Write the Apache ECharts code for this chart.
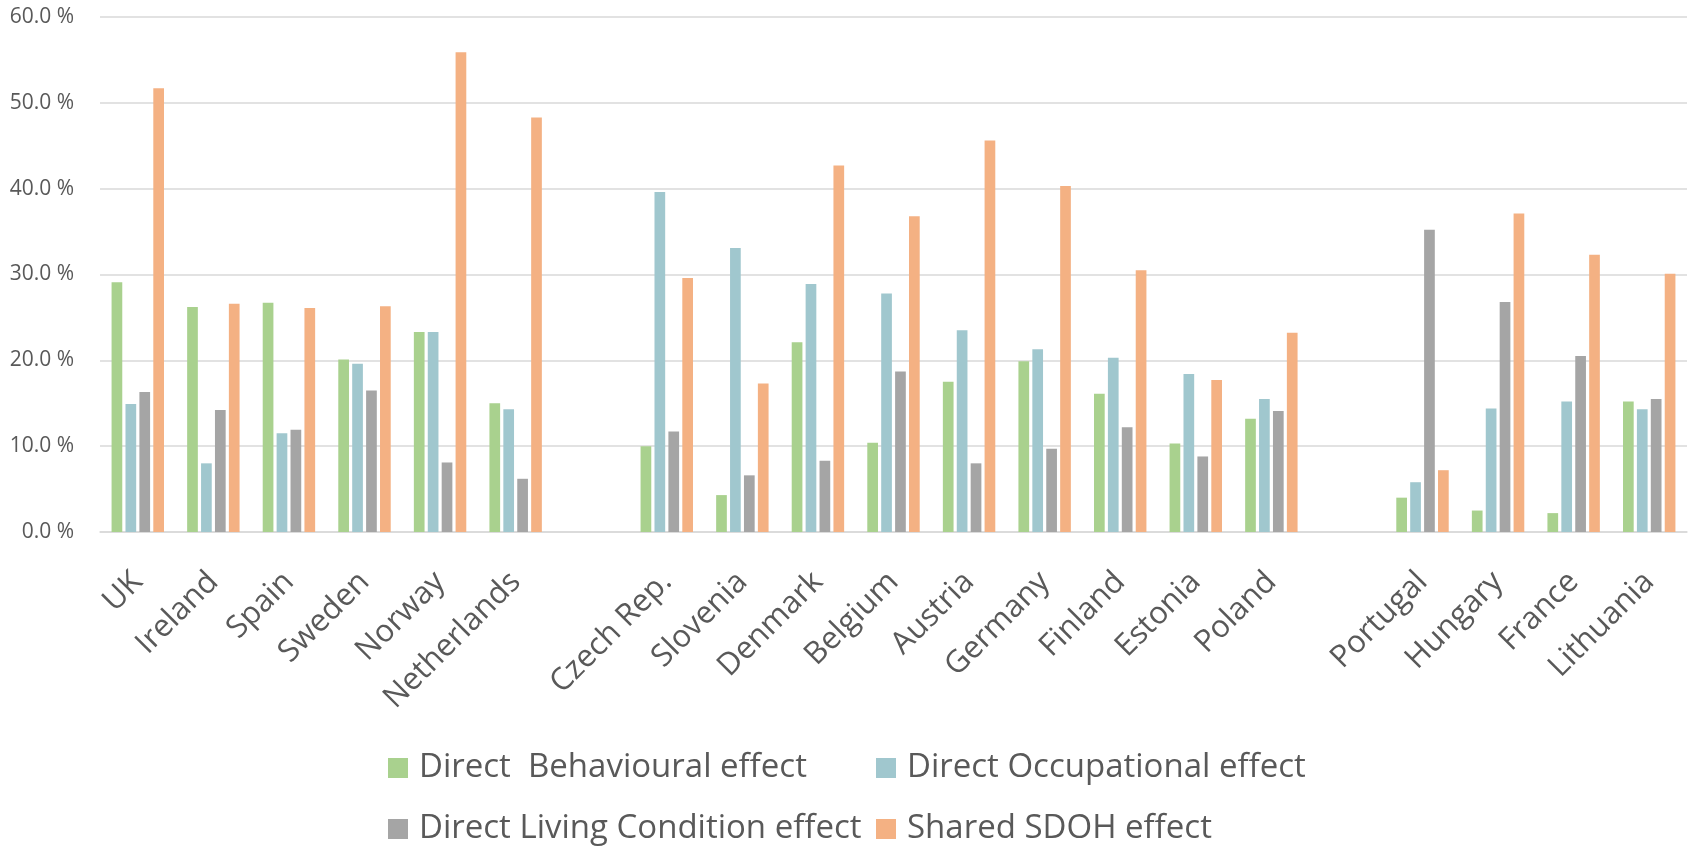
<!DOCTYPE html>
<html>
<head>
<meta charset="utf-8">
<script src="https://cdn.jsdelivr.net/npm/echarts@6/dist/echarts.min.js"></script>
<style>
  html, body { margin: 0; padding: 0; background: #ffffff; }
  #chart { width: 1696px; height: 846px; }
</style>
</head>
<body>
<div id="chart"></div>
<script>
// Countries, with empty slots separating the three country groups
const categories = ['UK', 'Ireland', 'Spain', 'Sweden', 'Norway', 'Netherlands', '',
  'Czech Rep.', 'Slovenia', 'Denmark', 'Belgium', 'Austria', 'Germany', 'Finland', 'Estonia', 'Poland', '',
  'Portugal', 'Hungary', 'France', 'Lithuania'];

const seriesNames = ['Direct  Behavioural effect', 'Direct Occupational effect',
  'Direct Living Condition effect', 'Shared SDOH effect'];

// Share of the effect, in percent
const behavioural  = [29.1, 26.2, 26.7, 20.1, 23.3, 15.0, null, 10.0, 4.3, 22.1, 10.4, 17.5, 19.9, 16.1, 10.3, 13.2, null, 4.0, 2.5, 2.2, 15.2];
const occupational = [14.9, 8.0, 11.5, 19.6, 23.3, 14.3, null, 39.6, 33.1, 28.9, 27.8, 23.5, 21.3, 20.3, 18.4, 15.5, null, 5.8, 14.4, 15.2, 14.3];
const living       = [16.3, 14.2, 11.9, 16.5, 8.1, 6.2, null, 11.7, 6.6, 8.3, 18.7, 8.0, 9.7, 12.2, 8.8, 14.1, null, 35.2, 26.8, 20.5, 15.5];
const shared       = [51.7, 26.6, 26.1, 26.3, 55.9, 48.3, null, 29.6, 17.3, 42.7, 36.8, 45.6, 40.3, 30.5, 17.7, 23.2, null, 7.2, 37.1, 32.3, 30.1];

const yTicks = { min: 0, max: 60, step: 10 };

const colors = ['#A9D18E', '#A0C7CE', '#A5A5A5', '#F4B183'];
const textColor = '#595959';
const fontFamily = "'Open Sans', 'Noto Sans', sans-serif";

const values = [behavioural, occupational, living, shared];

const chart = echarts.init(document.getElementById('chart'), null, { renderer: 'canvas' });

// Legend laid out as a 2 x 2 grid: one single-entry legend per cell
const legendCols = [388, 876];
const legendRows = [748, 809];
const legendCell = [[0, 0], [1, 0], [0, 1], [1, 1]];

const legends = seriesNames.map((name, i) => ({
  data: [name],
  orient: 'horizontal',
  left: legendCols[legendCell[i][0]],
  top: legendRows[legendCell[i][1]],
  icon: 'rect', itemWidth: 20, itemHeight: 20,
  padding: 0,
  textStyle: {
    color: textColor,
    fontFamily: fontFamily,
    fontSize: 33,
    lineHeight: 40,
    padding: [0, 0, 0, 6]
  }
}));

chart.setOption({
  animation: false,
  backgroundColor: '#ffffff',
  color: colors,
  grid: { left: 100, right: 9, top: 17, bottom: 314, containLabel: false },
  legend: legends,
  xAxis: {
    type: 'category',
    data: categories,
    axisLine: { show: true, lineStyle: { color: '#D9D9D9', width: 1.5 } },
    axisTick: { show: false },
    axisLabel: {
      interval: 0,
      rotate: 45,
      margin: 45,
      color: textColor,
      fontFamily: fontFamily,
      fontSize: 31
    }
  },
  yAxis: {
    type: 'value',
    min: yTicks.min, max: yTicks.max, interval: yTicks.step,
    axisLine: { show: false },
    axisTick: { show: false },
    splitLine: { lineStyle: { color: '#D9D9D9', width: 1.5 } },
    axisLabel: {
      margin: 26,
      color: textColor,
      fontFamily: fontFamily,
      fontSize: 21,
      formatter: v => v.toFixed(1) + ' %'
    }
  },
  series: seriesNames.map((name, i) => ({
    name: name,
    type: 'bar',
    data: values[i],
    barWidth: 10.7,
    barGap: '30%',
    itemStyle: { color: colors[i] }
  }))
});
</script>
</body>
</html>
